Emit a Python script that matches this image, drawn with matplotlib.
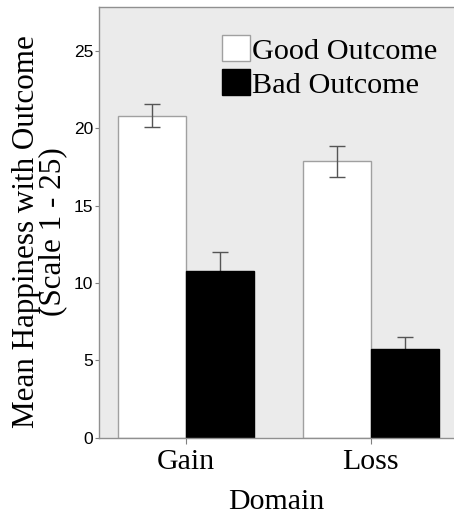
import numpy as np
import matplotlib.pyplot as plt
from matplotlib.patches import Patch

domains = ['Gain', 'Loss']
good_mean = [20.8, 17.85]
good_err = [0.72, 0.98]
bad_mean = [10.77, 5.75]
bad_err = [1.22, 0.77]

serif = 'Liberation Serif'

fig = plt.figure(figsize=(4.54, 5.14), dpi=100)
ax = fig.add_axes([0.218, 0.148, 0.782, 0.838])
ax.set_facecolor('#ebebeb')

x = np.arange(len(domains))
w = 0.368
ax.bar(x - w/2, good_mean, w, color='white', edgecolor='#a0a0a0', lw=1, zorder=2)
ax.bar(x + w/2, bad_mean, w, color='black', edgecolor='black', lw=1, zorder=2)
ax.errorbar(x - w/2, good_mean, yerr=good_err, fmt='none', ecolor='#555555',
            elinewidth=1, capsize=6, capthick=1, zorder=3)
# lower half of these sits behind the black bars
ax.errorbar(x + w/2, bad_mean, yerr=bad_err, fmt='none', ecolor='#555555',
            elinewidth=1, capsize=6, capthick=1, zorder=1)

ax.set_xlim(-0.47, 1.45)
ax.set_ylim(0, 27.8)
ax.set_yticks([0, 5, 10, 15, 20, 25])
ax.set_xticks(x)
ax.set_xticklabels(domains, fontfamily=serif, fontsize=21.5)
for t in ax.get_yticklabels():
    t.set_fontfamily('Liberation Sans')
    t.set_fontsize(12.5)
ax.tick_params(axis='y', length=3, width=0.8, color='#808080', pad=1)
ax.tick_params(axis='x', length=4, width=0.8, color='#808080', pad=4)

for s in ['left', 'bottom', 'top']:
    ax.spines[s].set_color('#909090')
    ax.spines[s].set_linewidth(1)
ax.spines['right'].set_visible(False)

ax.set_xlabel('Domain', fontfamily=serif, fontsize=21.5, labelpad=10)
ax.set_ylabel('Mean Happiness with Outcome\n(Scale 1 - 25)', fontfamily=serif,
              fontsize=22.4, linespacing=0.9)
ax.yaxis.set_label_coords(-0.089, 0.478)

handles = [Patch(facecolor='white', edgecolor='#a0a0a0'),
           Patch(facecolor='black', edgecolor='black')]
ax.legend(handles, ['Good Outcome', 'Bad Outcome'], loc='upper left',
          bbox_to_anchor=(0.304, 0.97), frameon=False, borderpad=0,
          handlelength=0.93, handleheight=0.93, handletextpad=0.05,
          labelspacing=0.16, prop={'family': serif, 'size': 21.8})

fig.savefig('out.png', dpi=100)
